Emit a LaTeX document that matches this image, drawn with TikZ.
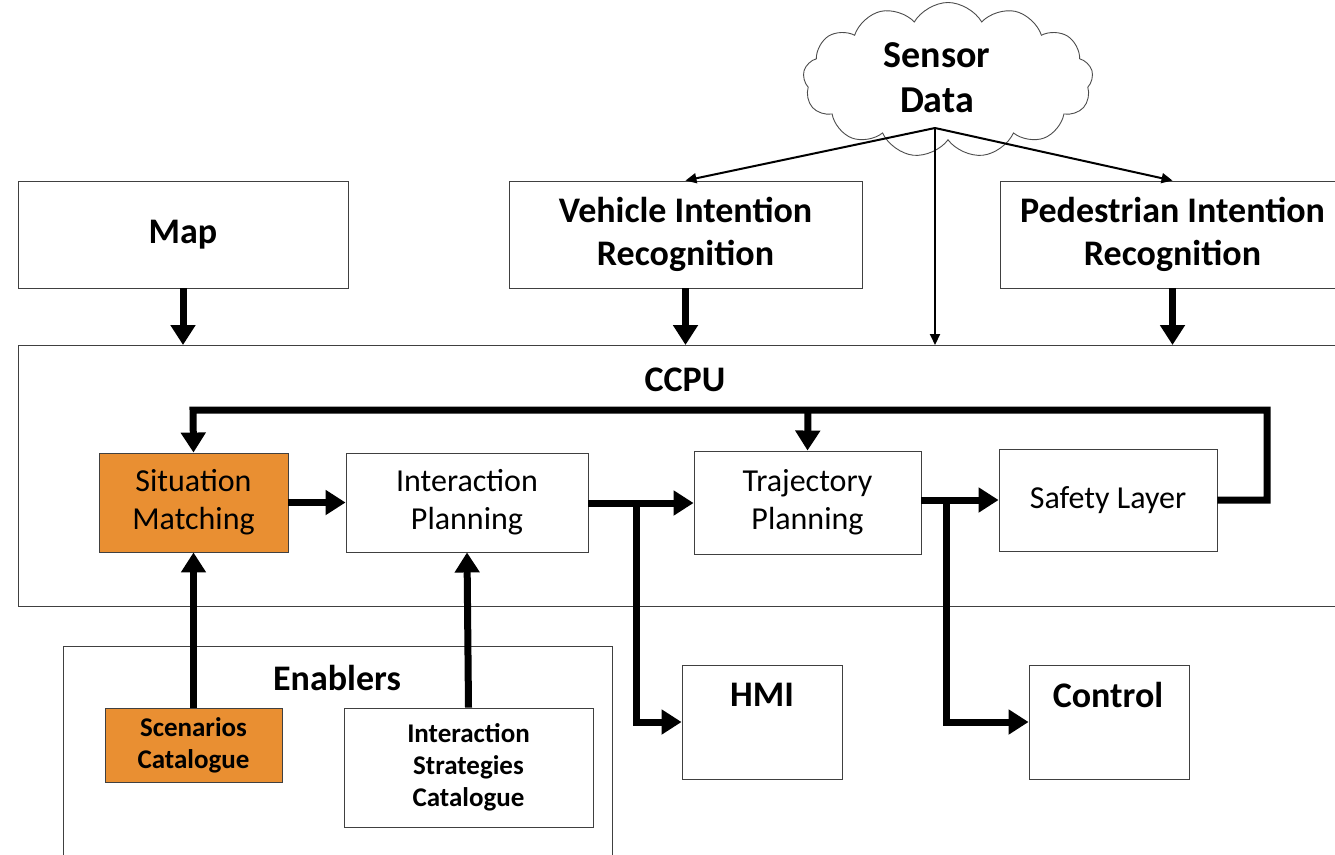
\documentclass[tikz,border=0pt]{standalone}
\usepackage{fontspec}
\setmainfont{Carlito}
\usetikzlibrary{shapes.symbols,arrows.meta}
\definecolor{orng}{RGB}{233,143,50}
\begin{document}
\begin{tikzpicture}[x=1pt,y=-1pt,
  box/.style={draw=black!75,line width=0.9pt,inner sep=0pt,align=center},
  big/.style={font=\fontsize{36}{43}\selectfont\bfseries},
  med/.style={font=\fontsize{32}{38}\selectfont},
  sml/.style={font=\fontsize{27}{32}\selectfont\bfseries},
  thick arrow/.style={line width=7pt,line join=miter,-{Triangle[length=20pt,width=24pt]}},
  thin arrow/.style={line width=2pt,-{Triangle[length=11pt,width=10pt]}}]
\useasboundingbox (0,0) rectangle (1335,854);
% top boxes
\node[box,big,minimum width=330,minimum height=107] (map) at (183,234.5) {Map};
\node[box,big,minimum width=353,minimum height=107] (veh) at (685.5,234.5) {Vehicle Intention\\Recognition};
\node[box,big,minimum width=345,minimum height=107] (ped) at (1172.5,234.5) {Pedestrian Intention\\Recognition};
% CCPU
\node[box,minimum width=1330,minimum height=261,anchor=north west] (ccpu) at (18,345) {};
\node[big,anchor=center] (ccputitle) at (685,380) {CCPU};
% cloud
\node[draw=black!70,line width=0.9pt,cloud,cloud puffs=13,cloud puff arc=120,aspect=1.9,minimum width=290,minimum height=155,inner sep=0pt] (cloud) at (948,80) {};
\node[font=\fontsize{38}{45}\selectfont\bfseries,align=center] (sensor) at (937,78) {Sensor\\Data};
\coordinate (src) at (935,128);
% CCPU inner
\node[box,med,fill=orng,minimum width=189,minimum height=99] (sit) at (193.5,502.5) {Situation\\Matching};
\node[box,med,minimum width=242,minimum height=99] (ip) at (467,502.5) {Interaction\\Planning};
\node[box,med,minimum width=227,minimum height=103] (tp) at (807.5,502.5) {Trajectory\\Planning};
\node[box,med,minimum width=218,minimum height=102] (sl) at (1108,500) {Safety Layer};
% outputs
\node[box,minimum width=160,minimum height=114] (hmi) at (762,722) {};
\node[big] (hmit) at (762,695) {HMI};
\node[box,minimum width=160,minimum height=114] (ctl) at (1109,722) {};
\node[big] (ctlt) at (1108,695) {Control};
% enablers
\node[box,minimum width=549,minimum height=230,anchor=north west] (en) at (63,646) {};
\node[big] (ent) at (337,678) {Enablers};
\node[box,sml,fill=orng,minimum width=177,minimum height=74] (sc) at (193.5,745) {Scenarios\\Catalogue};
\node[box,sml,minimum width=249,minimum height=119] (isc) at (468.5,767.5) {Interaction\\Strategies\\Catalogue};
% thin arrows from sensor data
\draw[thin arrow] (src) -- (veh.north);
\draw[thin arrow] (src) -- (ped.north);
\draw[thin arrow] (src) -- (src |- ccpu.north);
% thick arrows into CCPU
\draw[thick arrow] (map.south) -- (map.south |- ccpu.north);
\draw[thick arrow] (veh.south) -- (veh.south |- ccpu.north);
\draw[thick arrow] (ped.south) -- (ped.south |- ccpu.north);
% chain
\draw[thick arrow] (sit.east) -- (ip.west);
\draw[thick arrow] (ip.east |- 0,503) -- (tp.west |- 0,503);
\draw[thick arrow] (tp.east |- 0,500) -- (sl.west);
\draw[thick arrow] (636,503) -- (636,722) -- (hmi.west);
\draw[thick arrow] (946,500) -- (946,722) -- (ctl.west);
% feedback
\draw[thick arrow] (sl.east) -- (1267,500) -- (1267,410) -- (193,410) -- (sit.north);
\draw[thick arrow] (808,410) -- (tp.north);
% enablers up
\draw[thick arrow] (sc.north) -- (sit.south);
\draw[thick arrow] (isc.north) -- (ip.south);
\end{tikzpicture}
\end{document}
